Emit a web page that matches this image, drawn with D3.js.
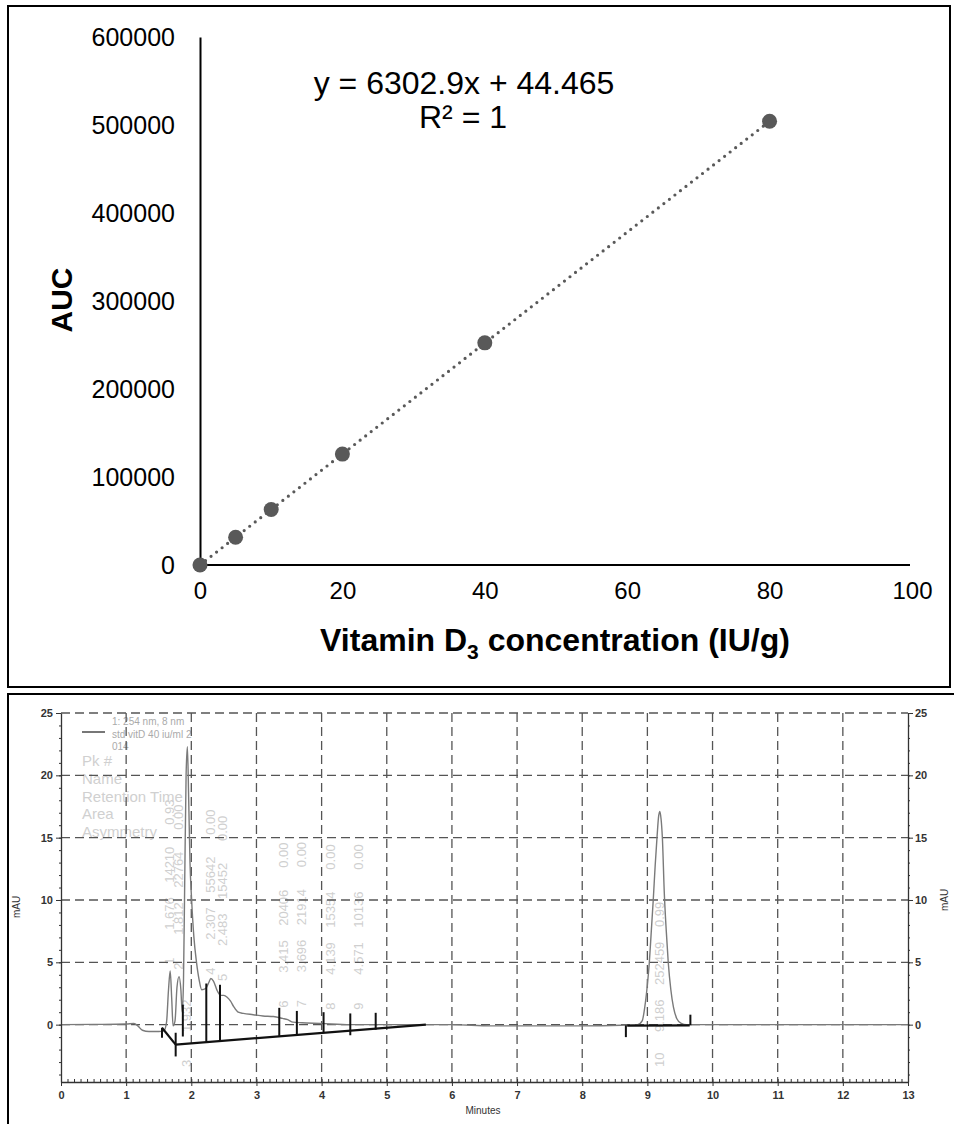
<!DOCTYPE html>
<html>
<head>
<meta charset="utf-8">
<script src="https://cdn.jsdelivr.net/npm/d3@7"></script>
<style>
  body { margin: 0; background: #fff; }
  svg { display: block; font-family: "Liberation Sans", Arial, sans-serif; }
</style>
</head>
<body>
<div id="chart"></div>
<script>
// ---- calibration curve data ----
const concs = [0, 5, 10, 20, 40, 80];
const aucs = [0, 31500, 63000, 126000, 252459, 504300];
const xTicksTop = [0, 20, 40, 60, 80, 100];
const yTicksTop = [0, 100000, 200000, 300000, 400000, 500000, 600000];
const slope = 6302.9, intercept = 44.465;

// ---- chromatogram data (minutes, mAU) ----
const traceTime = [0, 0.5, 1.0, 1.12, 1.18, 1.25, 1.35, 1.5, 1.58, 1.62, 1.65, 1.676, 1.70, 1.72, 1.75, 1.78, 1.812, 1.84, 1.86, 1.88, 1.90, 1.92, 1.94, 1.96, 1.98, 2.005, 2.04, 2.08, 2.12, 2.16, 2.22, 2.27, 2.30, 2.34, 2.40, 2.45, 2.50, 2.55, 2.60, 2.65, 2.72, 2.80, 2.95, 3.10, 3.26, 3.40, 3.48, 3.56, 3.70, 3.98, 4.44, 5.0, 5.6, 6.0, 6.6, 7.0, 8.0, 8.6, 8.85, 8.92, 8.97, 9.0, 9.03, 9.06, 9.09, 9.12, 9.15, 9.17, 9.19, 9.21, 9.23, 9.26, 9.29, 9.32, 9.36, 9.40, 9.45, 9.52, 9.6, 10, 11, 12, 13];
const traceMAU = [0, 0.02, 0.05, 0.1, -0.1, -0.45, -0.55, -0.55, -0.5, 0.2, 2.8, 4.3, 2.0, -0.1, 0.3, 3.0, 3.85, 2.8, 1.0, 3.5, 12, 20, 22.3, 18, 13, 10, 7, 5, 3.6, 2.8, 2.9, 3.4, 3.7, 3.5, 2.7, 2.35, 2.35, 2.2, 1.9, 1.45, 1.0, 0.9, 0.8, 0.7, 0.65, 0.5, 0.4, 0.2, 0.15, 0.1, 0.0, 0.0, 0.0, 0.0, -0.1, -0.1, -0.1, -0.05, 0.0, 0.3, 1.8, 3.2, 5, 7.5, 10, 12.8, 15.2, 16.6, 17.1, 16.5, 15, 10.5, 7.5, 5, 2.8, 1.4, 0.5, 0.1, 0.0, 0, 0, 0, 0];

// integration baselines [t1, v1, t2, v2]
const baselines = [[1.55, -0.25, 1.76, -1.6], [1.76, -1.6, 5.6, 0], [8.69, -0.08, 9.65, -0.05]];
// peak start/stop markers
const markerT = [1.55, 1.76, 1.87, 2.23, 2.44, 3.35, 3.62, 4.03, 4.44, 4.83, 8.67, 9.66];
const markerTop = [-0.25, -0.65, 1.6, 3.3, 3.2, 1.35, 1.1, 1.0, 0.9, 0.95, -0.05, 0.8];
const markerBottom = [-1.05, -2.55, -0.95, -1.35, -1.3, -0.9, -0.8, -0.65, -0.85, -0.4, -1.0, -0.05];

// peak table
const peakNum = [1, 2, 3, 4, 5, 6, 7, 8, 9, 10];
const peakRT = ["1.676", "1.812", "1.932", "2.307", "2.483", "3.415", "3.696", "4.139", "4.571", "9.186"];
const peakArea = ["14210", "22764", "", "55642", "15452", "20406", "21914", "15354", "10136", "252459"];
const peakAsym = ["0.93", "0.00", "", "0.00", "0.00", "0.00", "0.00", "0.00", "0.00", "0.99"];
const peakLabelAt = [4.8, 4.4, -3.4, 4.0, 3.5, 1.35, 1.4, 1.2, 1.2, -3.4];

const tableHeads = ["Pk #", "Name", "Retention Time", "Area", "Asymmetry"];
const legendLines = ["1: 254 nm, 8 nm", "std vitD 40 iu/ml 2", "014"];
const xTicksChrom = d3.range(0, 14);
const yTicksChrom = [0, 5, 10, 15, 20, 25];

const svg = d3.select("#chart").append("svg")
  .attr("width", 954).attr("height", 1124);

// ================= top panel =================
svg.append("rect").attr("x", 8).attr("y", 6).attr("width", 942).attr("height", 681)
  .attr("fill", "none").attr("stroke", "#000").attr("stroke-width", 2);

const x = d3.scaleLinear().domain([0, 100]).range([200, 912]);
const y = d3.scaleLinear().domain([0, 600000]).range([565, 37]);

const gx = svg.append("g").attr("transform", "translate(0,565)")
  .call(d3.axisBottom(x).tickValues(xTicksTop).tickSize(0).tickSizeOuter(0).tickPadding(17));
gx.select(".domain").attr("stroke", "#000").attr("stroke-width", 2)
  .attr("d", `M${x(0)},0H${x(100) - 2}`);
gx.selectAll("text").attr("font-size", 24).attr("fill", "#000");

const gy = svg.append("g").attr("transform", "translate(200,0)")
  .call(d3.axisLeft(y).tickValues(yTicksTop).tickFormat(d3.format("d"))
    .tickSize(0).tickSizeOuter(0).tickPadding(25));
gy.select(".domain").attr("stroke", "#000").attr("stroke-width", 2);
gy.selectAll("text").attr("font-size", 25).attr("fill", "#000");

// trendline
svg.append("line")
  .attr("x1", x(0)).attr("y1", y(intercept))
  .attr("x2", x(80)).attr("y2", y(slope * 80 + intercept))
  .attr("stroke", "#595959").attr("stroke-width", 3.2)
  .attr("stroke-linecap", "round").attr("stroke-dasharray", "0 7");

svg.append("g").selectAll("circle").data(concs).join("circle")
  .attr("cx", d => x(d)).attr("cy", (d, i) => y(aucs[i]))
  .attr("r", 7.5).attr("fill", "#595959");

svg.append("text").attr("x", 464).attr("y", 94).attr("text-anchor", "middle")
  .attr("font-size", 32).text("y = 6302.9x + 44.465");
svg.append("text").attr("x", 463).attr("y", 128).attr("text-anchor", "middle")
  .attr("font-size", 32).text("R² = 1");

const xt = svg.append("text").attr("x", 555).attr("y", 651).attr("text-anchor", "middle")
  .attr("font-size", 32).attr("font-weight", "bold");
xt.append("tspan").text("Vitamin D");
xt.append("tspan").attr("font-size", 21).attr("dy", 8).text("3");
xt.append("tspan").attr("dy", -8).text(" concentration (IU/g)");

svg.append("text").attr("transform", "translate(72,300) rotate(-90)")
  .attr("text-anchor", "middle").attr("font-size", 30).attr("font-weight", "bold").text("AUC");

// ================= bottom panel =================
svg.append("rect").attr("x", 8).attr("y", 694).attr("width", 960).attr("height", 440)
  .attr("fill", "none").attr("stroke", "#000").attr("stroke-width", 2);

const xc = d3.scaleLinear().domain([0, 13]).range([61, 908]);
const yc = d3.scaleLinear().domain([-4.6, 25]).range([1082, 713]);
const gridColor = "#555";

// legend + table headers (faint)
svg.append("line").attr("x1", 82).attr("x2", 105).attr("y1", 732).attr("y2", 732)
  .attr("stroke", "#555").attr("stroke-width", 1.6);
svg.append("g").selectAll("text").data(legendLines).join("text")
  .attr("x", 112).attr("y", (d, i) => 725 + i * 12.5)
  .attr("font-size", 10).attr("fill", "#aaa").text(d => d);
svg.append("g").selectAll("text").data(tableHeads).join("text")
  .attr("x", 82).attr("y", (d, i) => 766 + i * 17.8)
  .attr("font-size", 15).attr("fill", "#d0d0d0").text(d => d);

// peak annotations (faint, vertical)
const colOffset = [0, 35, 82, 140];
peakNum.forEach(function(p, i) {
  const fields = [String(p), peakRT[i], peakArea[i], peakAsym[i]];
  const px = xc(+peakRT[i]) + 4, py = yc(peakLabelAt[i]);
  fields.forEach(function(f, j) {
    if (!f) return;
    svg.append("text")
      .attr("transform", `translate(${px},${py - colOffset[j]}) rotate(-90)`)
      .attr("font-size", 13).attr("fill", "#cfcfcf").text(f);
  });
});

// grid
svg.append("g").selectAll("line").data(xTicksChrom.slice(1, 13)).join("line")
  .attr("x1", d => xc(d)).attr("x2", d => xc(d)).attr("y1", yc(25)).attr("y2", yc(-4.6))
  .attr("stroke", gridColor).attr("stroke-width", 1.3).attr("stroke-dasharray", "9 5");
svg.append("g").selectAll("line").data(yTicksChrom).join("line")
  .attr("x1", xc(0)).attr("x2", xc(13)).attr("y1", d => yc(d)).attr("y2", d => yc(d))
  .attr("stroke", gridColor).attr("stroke-width", 1.3).attr("stroke-dasharray", "9 5");

// trace
const trace = traceTime.map((t, i) => [t, traceMAU[i]]);
svg.append("path").datum(trace)
  .attr("d", d3.line().x(d => xc(d[0])).y(d => yc(d[1])).curve(d3.curveMonotoneX))
  .attr("fill", "none").attr("stroke", "#7a7a7a").attr("stroke-width", 1.4);

// baselines and markers
svg.append("g").selectAll("line").data(baselines).join("line")
  .attr("x1", d => xc(d[0])).attr("y1", d => yc(d[1]))
  .attr("x2", d => xc(d[2])).attr("y2", d => yc(d[3]))
  .attr("stroke", "#111").attr("stroke-width", 2.2);
svg.append("g").selectAll("line").data(markerT).join("line")
  .attr("x1", d => xc(d)).attr("x2", d => xc(d))
  .attr("y1", (d, i) => yc(markerTop[i])).attr("y2", (d, i) => yc(markerBottom[i]))
  .attr("stroke", "#111").attr("stroke-width", 2);

// axes
const axisColor = "#333";
const ax = svg.append("g").attr("transform", `translate(0,${yc(-4.6)})`)
  .call(d3.axisBottom(xc).tickValues(xTicksChrom).tickSize(4).tickSizeOuter(0).tickPadding(5));
svg.append("g").attr("transform", `translate(0,${yc(-4.6)})`)
  .call(d3.axisTop(xc).tickValues(d3.range(0, 131).map(d => d / 10)).tickSize(3).tickFormat(""))
  .select(".domain").remove();

const al = svg.append("g").attr("transform", `translate(${xc(0)},0)`)
  .call(d3.axisLeft(yc).tickValues(yTicksChrom).tickSize(5).tickSizeOuter(0).tickPadding(3));
svg.append("g").attr("transform", `translate(${xc(0)},0)`)
  .call(d3.axisLeft(yc).tickValues(d3.range(-4, 26)).tickSize(2).tickFormat(""))
  .select(".domain").remove();

const ar = svg.append("g").attr("transform", `translate(${xc(13)},0)`)
  .call(d3.axisRight(yc).tickValues(yTicksChrom).tickSize(5).tickSizeOuter(0).tickPadding(2));
svg.append("g").attr("transform", `translate(${xc(13)},0)`)
  .call(d3.axisRight(yc).tickValues(d3.range(-4, 26)).tickSize(2).tickFormat(""))
  .select(".domain").remove();

svg.selectAll("g.tick line").attr("stroke", axisColor);
[ax, al, ar].forEach(function(g) {
  g.select(".domain").attr("stroke", axisColor).attr("stroke-width", 1.3);
  g.selectAll("text").attr("font-size", 11).attr("font-weight", "bold").attr("fill", "#333");
});

svg.append("text").attr("x", 483).attr("y", 1114).attr("text-anchor", "middle")
  .attr("font-size", 10).attr("fill", "#333").text("Minutes");
svg.append("text").attr("transform", "translate(20,907) rotate(-90)").attr("text-anchor", "middle")
  .attr("font-size", 10).attr("fill", "#333").text("mAU");
svg.append("text").attr("transform", "translate(948,900) rotate(-90)").attr("text-anchor", "middle")
  .attr("font-size", 10).attr("fill", "#333").text("mAU");
</script>
</body>
</html>
